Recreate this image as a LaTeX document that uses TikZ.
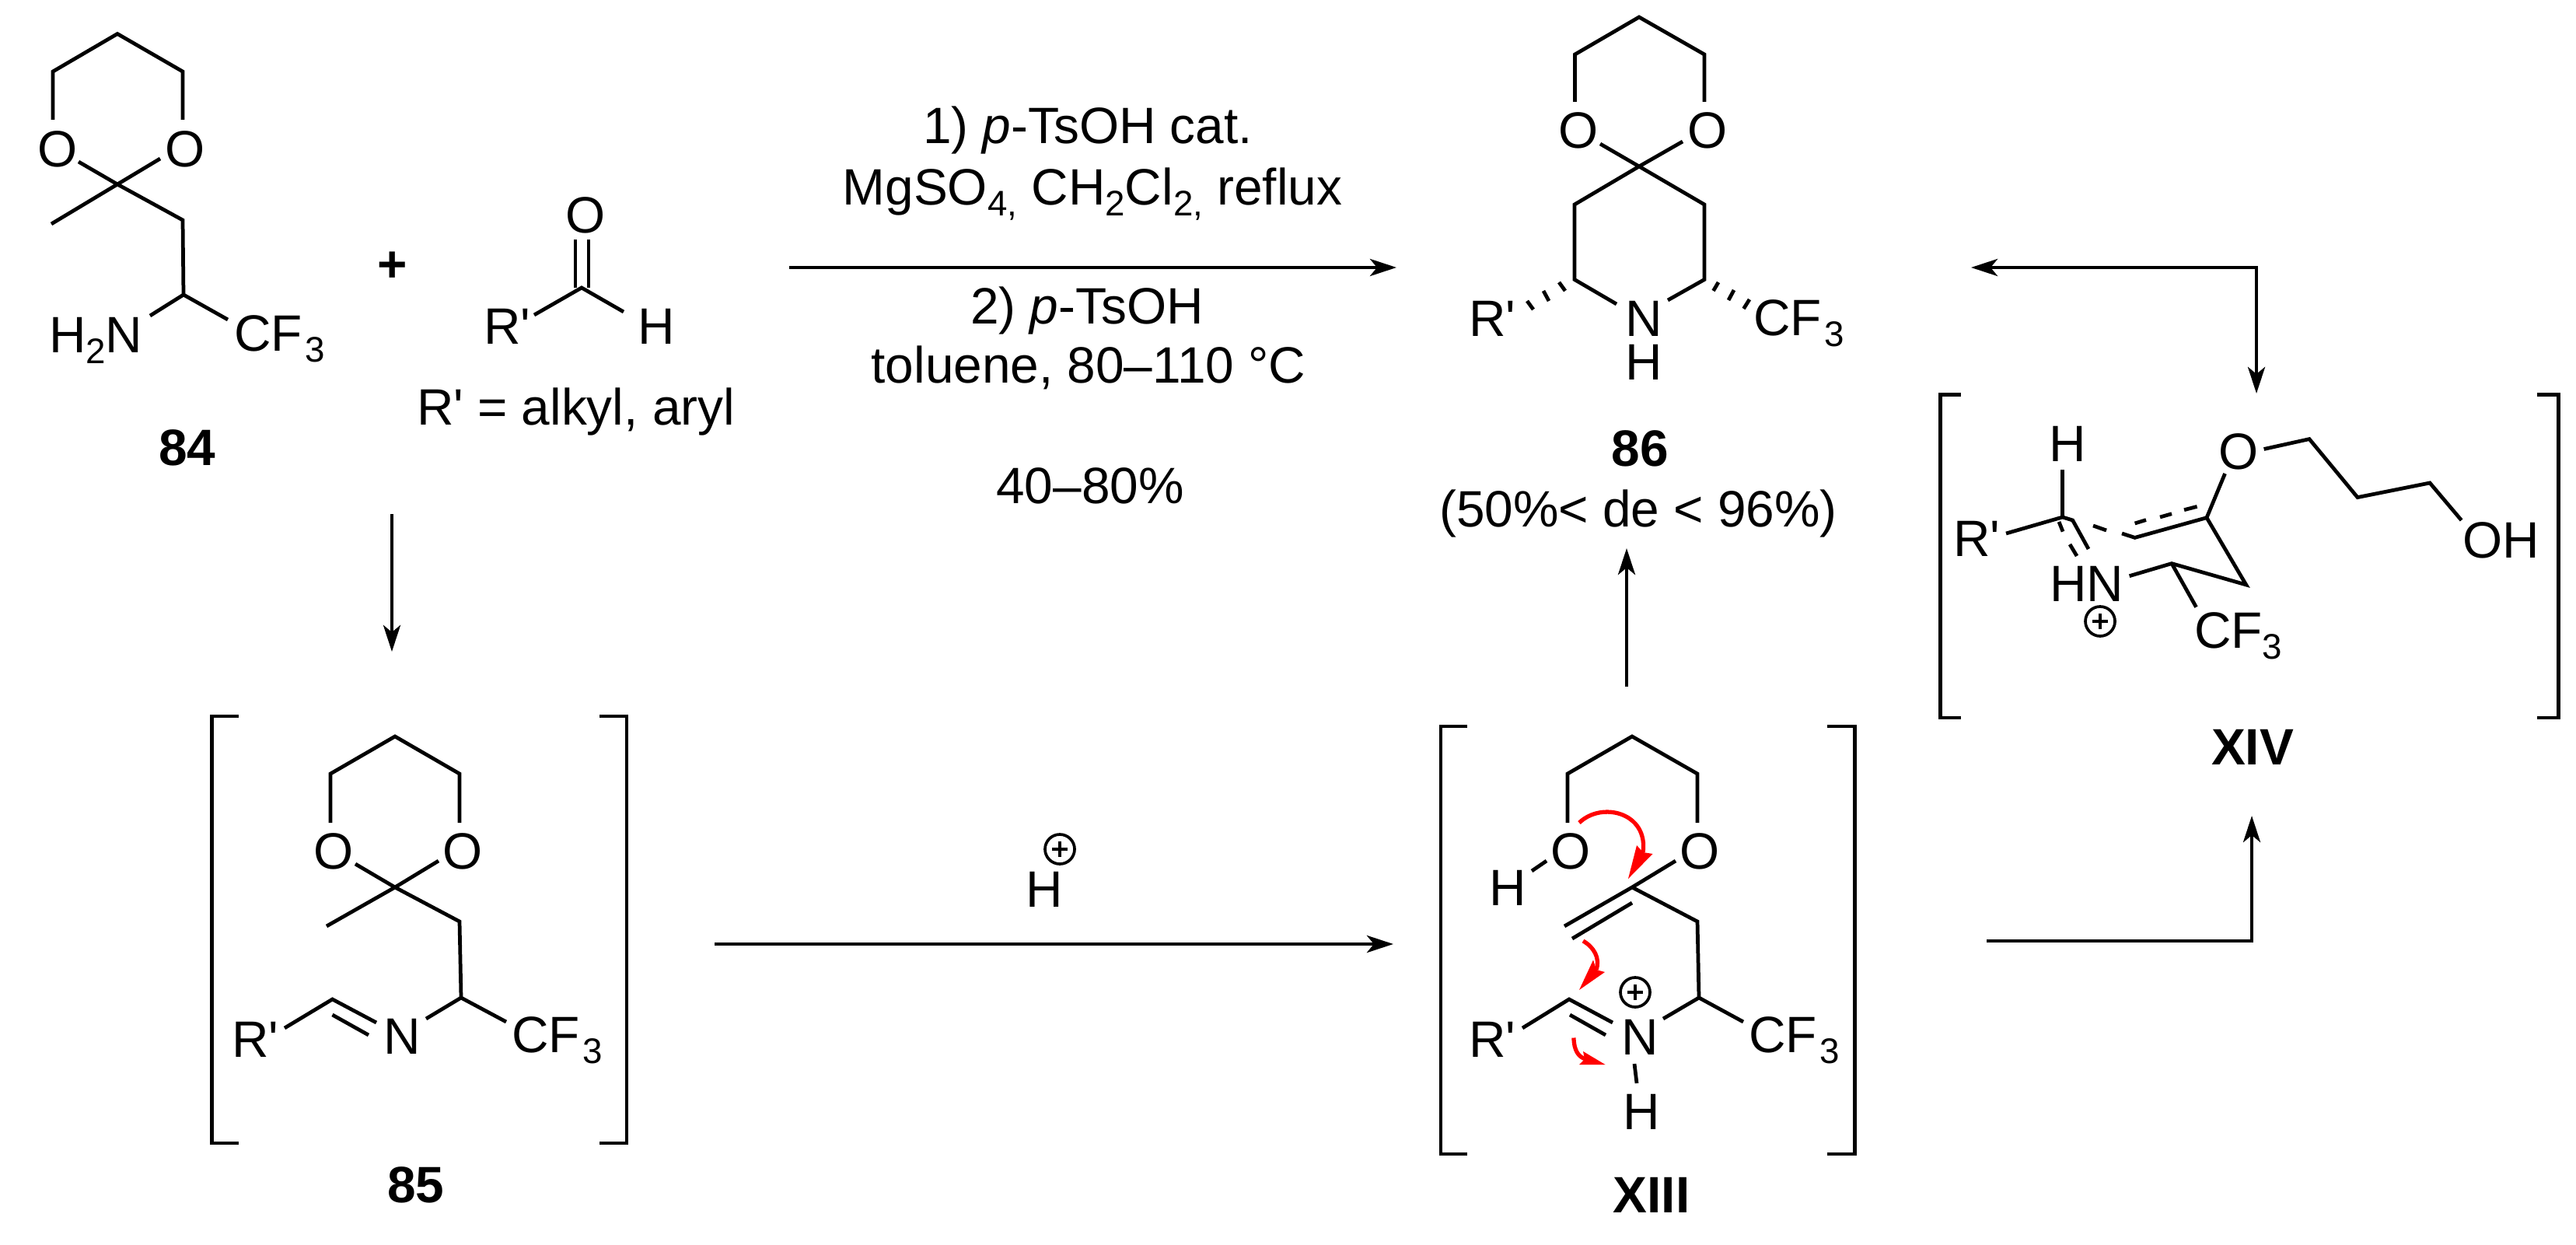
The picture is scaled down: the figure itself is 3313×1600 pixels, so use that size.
\documentclass[tikz,border=0pt]{standalone}
\usepackage{fontspec}
\setmainfont{Liberation Sans}
\usetikzlibrary{arrows.meta}
\newcommand{\primemark}{\textquotesingle}
\newcommand{\lowsub}[1]{\raisebox{-4pt}{\fontsize{13}{13}\selectfont #1}}
\newcommand{\cfthree}{CF\kern1pt\lowsub{3}}
\newcommand{\chargemark}[2]{%
  \draw[chgline] (#1,#2) circle (19);
  \draw[chgline] (#1-10,#2) -- (#1+10,#2);
  \draw[chgline] (#1,#2-10) -- (#1,#2+10);}
\tikzset{
  every node/.style={inner sep=0pt,outer sep=0pt,font=\fontsize{18.7}{22}\selectfont},
  lab/.style={anchor=base},
  labw/.style={anchor=base west},
  boldlab/.style={anchor=base,font=\fontsize{18.7}{22}\selectfont\bfseries},
  bond/.style={line width=1.35pt,line join=miter},
  brk/.style={line width=1.4pt,line join=miter},
  chgline/.style={line width=1.05pt},
  rxn/.style={line width=1.3pt,-{Stealth[length=0.34cm,width=0.22cm,inset=0.09cm]}},
  rxntwo/.style={line width=1.3pt,{Stealth[length=0.34cm,width=0.22cm,inset=0.09cm]}-{Stealth[length=0.34cm,width=0.22cm,inset=0.09cm]}},
  redline/.style={line width=1.5pt,draw=red},
  redhead/.style={fill=red,draw=none}
}
\begin{document}
\begin{tikzpicture}[x=0.01cm,y=-0.01cm]
\useasboundingbox (0,0) rectangle (3313,1600);

% ---------- 84 ----------
\draw[bond] (68,154) -- (68,92) -- (151,43.5) -- (235,92) -- (235,154);
\node[lab] (o84a) at (74,214.5) {O};
\node[lab] (o84b) at (238,214.5) {O};
\draw[bond] (101,208) -- (151,237) -- (206,204);
\draw[bond] (66,288) -- (151,237) -- (235,283) -- (236,379) -- (193,406);
\draw[bond] (236,379) -- (293,411);
\node[labw] (n84) at (63,453) {H\lowsub{2}N};
\node[labw] (cf84) at (301,451) {\cfthree};
\node[boldlab] (l84) at (241,598) {84};
\node[anchor=base,font=\fontsize{18.7}{22}\selectfont\bfseries] (plus) at (505,362) {+};

% aldehyde
\node[lab] (oald) at (753,299) {O};
\draw[bond] (740,308) -- (740,370);
\draw[bond] (757,308) -- (757,370);
\draw[bond] (687,405) -- (748,370) -- (802,401);
\node[labw] (rald) at (622,442) {R\primemark};
\node[labw] (hald) at (820,442) {H};
\node[labw] (ralk) at (536,546) {R\primemark{} = alkyl, aryl};

% conditions
\node[lab] (c1) at (1399,185) {1) \textit{p}-TsOH cat.};
\node[lab] (c2) at (1405,263) {MgSO\lowsub{4,} CH\lowsub{2}Cl\lowsub{2,} reflux};
\node[lab] (c3) at (1398,416) {2) \textit{p}-TsOH};
\node[lab] (c4) at (1400,492.5) {toluene, 80–110 °C};
\node[lab] (c5) at (1402,647) {40–80\%};
\coordinate (a1s) at (1015,344);
\coordinate (a1e) at (1796,344);
\draw[rxn] (a1s) -- (a1e);

% ---------- 86 ----------
\draw[bond] (2025.5,131) -- (2025.5,70) -- (2108,22) -- (2192,70) -- (2192,131);
\node[lab] (o86a) at (2030,190) {O};
\node[lab] (o86b) at (2196,190) {O};
\draw[bond] (2058,185) -- (2108,214) -- (2164,182);
\draw[bond] (2079,391) -- (2025,359.5) -- (2025,263) -- (2108,214) -- (2192,263) -- (2192,359.5) -- (2145,386);
\draw[bond] (2005,363) -- (2013,374);
\draw[bond] (1985,374) -- (1992,387);
\draw[bond] (1964,387) -- (1972,398);
\draw[bond] (2210,363) -- (2203.5,374);
\draw[bond] (2230,373) -- (2223,386);
\draw[bond] (2250,385) -- (2242.5,397);
\node[lab] (n86) at (2114,432) {N};
\node[lab] (h86) at (2114,488) {H};
\node[labw] (r86) at (1889,432) {R\primemark};
\node[labw] (cf86) at (2255,431) {\cfthree};
\node[boldlab] (l86) at (2109,599) {86};
\node[lab] (de86) at (2107,677) {(50\%< de < 96\%)};

% ---------- 85 ----------
\draw[brk] (307,921) -- (272.5,921) -- (272.5,1470) -- (307,1470);
\draw[brk] (771,921) -- (806,921) -- (806,1470) -- (771,1470);
\draw[bond] (425,1058) -- (425,995) -- (508,947) -- (591,995) -- (591,1058);
\node[lab] (o85a) at (429,1117) {O};
\node[lab] (o85b) at (595,1117) {O};
\draw[bond] (457,1111) -- (508,1141) -- (564,1107);
\draw[bond] (420,1191) -- (508,1141) -- (591,1185) -- (593,1283) -- (548,1310);
\draw[bond] (593,1283) -- (651,1314);
\draw[bond] (366,1322) -- (427.5,1285) -- (484,1315);
\draw[bond] (427.5,1305) -- (474,1331);
\node[labw] (r85) at (298,1359) {R\primemark};
\node[lab] (n85) at (517,1355) {N};
\node[labw] (cf85) at (658,1353) {\cfthree};
\node[boldlab] (l85) at (535,1546) {85};

% ---------- XIII ----------
\draw[brk] (1887,934) -- (1853,934) -- (1853,1484) -- (1887,1484);
\draw[brk] (2350,934) -- (2385,934) -- (2385,1484) -- (2350,1484);
\draw[bond] (2016,1058) -- (2016,995) -- (2099,947) -- (2183,995) -- (2183,1058);
\node[lab] (o13a) at (2020,1117) {O};
\node[lab] (o13b) at (2186,1117) {O};
\node[lab] (h13a) at (1939,1164) {H};
\draw[bond] (1970,1120) -- (1989,1107);
\draw[bond] (2155,1107) -- (2099,1141) -- (2012,1191);
\draw[bond] (2099,1161) -- (2022,1207);
\draw[bond] (2099,1141) -- (2183,1185) -- (2185,1283) -- (2139,1310);
\draw[bond] (2185,1283) -- (2242,1314);
\draw[bond] (1958,1322) -- (2018,1285) -- (2074,1315);
\draw[bond] (2019,1305) -- (2065,1331);
\node[labw] (r13) at (1889,1359) {R\primemark};
\node[lab] (n13) at (2109,1356) {N};
\draw[bond] (2102,1368) -- (2105,1393);
\node[lab] (h13b) at (2111,1452) {H};
\chargemark{2103}{1276}
\node[labw] (cf13) at (2249,1353) {\cfthree};
\node[boldlab] (l13) at (2124,1559) {XIII};
% red arrows
\draw[redline] (2031,1058) .. controls (2060,1030) and (2120,1045) .. (2113,1096);
\fill[redhead] (2094,1130) -- (2105,1087) -- (2113,1096) -- (2125.5,1098) -- cycle;
\draw[redline] (2036,1210) .. controls (2050,1218) and (2058,1232) .. (2053,1247);
\fill[redhead] (2031,1273) -- (2049,1234.5) -- (2053,1247) -- (2064,1250) -- cycle;
\draw[redline] (2024,1334.5) .. controls (2024,1350) and (2030,1360) .. (2040,1362);
\fill[redhead] (2064.5,1369) -- (2036,1352) -- (2038,1362) -- (2031,1369) -- cycle;

% ---------- XIV ----------
\draw[brk] (2521.5,507.5) -- (2495,507.5) -- (2495,923) -- (2521.5,923);
\draw[brk] (3262.5,507.5) -- (3290,507.5) -- (3290,923) -- (3262.5,923);
\node[lab] (h14) at (2659,593.6) {H};
\draw[bond] (2652.6,604) -- (2652.6,665);
\draw[bond] (2580,686) -- (2652.6,665) -- (2665.6,669) -- (2686,706);
\draw[bond] (2648,671) -- (2653,683.6);
\draw[bond] (2662,700) -- (2671,715);
\draw[bond] (2692,676) -- (2709,682);
\draw[bond] (2729,686) -- (2745.6,691.4) -- (2838,665.7) -- (2861.5,609);
\draw[bond] (2745.6,673) -- (2760,668.6);
\draw[bond] (2778,665) -- (2793,660.7);
\draw[bond] (2809,655.7) -- (2825.6,651.4);
\node[labw] (r14) at (2512,715) {R\primemark};
\node[labw] (hn14) at (2636,773.6) {HN};
\chargemark{2701}{799}
\draw[bond] (2838,665.7) -- (2888.7,752) -- (2793,724.6) -- (2738.6,740.7);
\draw[bond] (2793,724.6) -- (2824.5,780.7);
\node[labw] (cf14) at (2822,833) {CF\lowsub{3}};
\node[lab] (o14) at (2879,603) {O};
\draw[bond] (2911.6,577.5) -- (2970,564.6) -- (3032,639.6) -- (3125,621) -- (3165.6,669);
\node[labw] (oh14) at (3167,717.5) {OH};
\node[boldlab] (l14) at (2897,983.6) {XIV};

% ---------- reaction arrows ----------
\coordinate (a2s) at (504,661);
\coordinate (a2e) at (504,838);
\draw[rxn] (a2s) -- (a2e);
\coordinate (a3s) at (919,1214);
\coordinate (a3e) at (1792,1214);
\draw[rxn] (a3s) -- (a3e);
\node[lab] (hplus) at (1343,1166) {H};
\chargemark{1363}{1092}
\coordinate (a4s) at (2092,883);
\coordinate (a4e) at (2092,705);
\draw[rxn] (a4s) -- (a4e);
\coordinate (a5s) at (2555,1210);
\coordinate (a5c) at (2896,1210);
\coordinate (a5e) at (2896,1049);
\draw[rxn] (a5s) -- (a5c) -- (a5e);
\coordinate (a6s) at (2535,344);
\coordinate (a6c) at (2902,344);
\coordinate (a6e) at (2902,506);
\draw[rxntwo] (a6s) -- (a6c) -- (a6e);
\end{tikzpicture}
\end{document}
